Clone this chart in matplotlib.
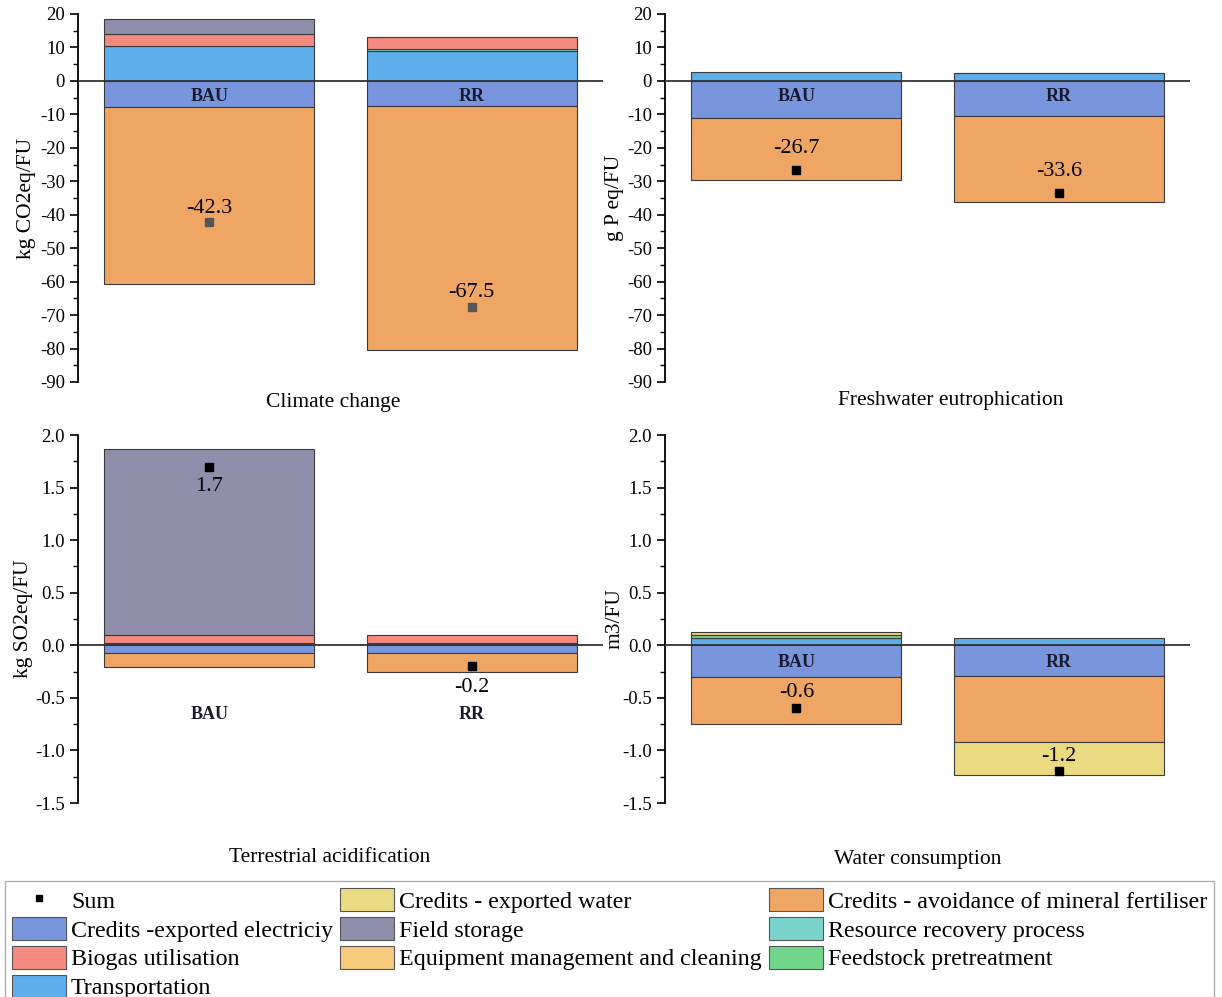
import matplotlib
matplotlib.use("Agg")
import matplotlib.pyplot as plt
from matplotlib.patches import Patch
from matplotlib.lines import Line2D
from matplotlib.ticker import MultipleLocator

plt.rcParams['font.family'] = ['Liberation Serif', 'DejaVu Serif']
plt.rcParams['axes.unicode_minus'] = False

scenarios = ["BAU", "RR"]
panels = ["Climate change", "Freshwater eutrophication", "Terrestrial acidification", "Water consumption"]
ylabels = ["kg CO2eq/FU", "g P eq/FU", "kg SO2eq/FU", "m3/FU"]

# values per panel, [BAU, RR]
transportation = [[10.5, 9.0], [2.7, 2.3], [0.02, 0.02], [0.07, 0.07]]
biogas = [[3.5, 3.5], [0.0, 0.0], [0.08, 0.08], [0.0, 0.0]]
field_storage = [[4.5, 0.0], [0.0, 0.0], [1.77, 0.0], [0.0, 0.0]]
resource_recovery = [[0.0, 0.6], [0.0, 0.2], [0.0, 0.0], [0.0, 0.0]]
feedstock = [[0.0, 0.0], [0.0, 0.0], [0.0, 0.0], [0.03, 0.0]]
equipment = [[0.0, 0.0], [0.0, 0.0], [0.0, 0.0], [0.025, 0.0]]
electricity = [[-7.8, -7.5], [-11.0, -10.6], [-0.07, -0.07], [-0.30, -0.29]]
fertiliser = [[-53.0, -73.0], [-18.5, -25.6], [-0.14, -0.18], [-0.45, -0.63]]
water = [[0.0, 0.0], [0.0, 0.0], [0.0, 0.0], [0.0, -0.31]]
sums = [[-42.3, -67.5], [-26.7, -33.6], [1.7, -0.2], [-0.6, -1.2]]

c_elec = "#7895de"
c_fert = "#efa564"
c_trans = "#5eaeec"
c_biogas = "#f58b80"
c_field = "#8f8fab"
c_water = "#eadb83"
c_equip = "#f7ca7d"
c_resrec = "#7bd4cb"
c_feed = "#72d68d"

pos_stack = [(transportation, c_trans), (feedstock, c_feed), (resource_recovery, c_resrec),
             (equipment, c_equip), (biogas, c_biogas), (field_storage, c_field)]
neg_stack = [(electricity, c_elec), (fertiliser, c_fert), (water, c_water)]

W, H = 1222, 997
fig = plt.figure(figsize=(W / 100, H / 100), dpi=100)

def fx(px):
    return px / W

def fy(py):
    return 1 - py / H

layouts = [
    dict(left=78, right=603, top=14, bottom=382, ylim=(-90, 20), major=10, minor=5,
         fmt="{:.0f}", catlab=-4.8, title_xy=(333, 403), ylab_x=36),
    dict(left=665, right=1190, top=14, bottom=382, ylim=(-90, 20), major=10, minor=5,
         fmt="{:.0f}", catlab=-4.8, title_xy=(951, 400), ylab_x=624),
    dict(left=78, right=603, top=435, bottom=803, ylim=(-1.5, 2.0), major=0.5, minor=0.25,
         fmt="{:.1f}", catlab=-0.66, title_xy=(330, 857), ylab_x=33),
    dict(left=665, right=1190, top=435, bottom=803, ylim=(-1.5, 2.0), major=0.5, minor=0.25,
         fmt="{:.1f}", catlab=-0.16, title_xy=(918, 859), ylab_x=624),
]
# sum label offsets (pixels, vertical) per panel per scenario
label_offsets = [[14, 14], [22, 22], [-20, -21], [16, 15]]
marker_colors = ["#555555", "black", "black", "black"]

xpos = [1, 2]
bw = 0.80
for i, L in enumerate(layouts):
    width_px = L['right'] - L['left']
    ax = fig.add_axes([fx(L['left']), fy(L['bottom']), fx(width_px),
                       (L['bottom'] - L['top']) / H])
    for j, x in enumerate(xpos):
        base = 0.0
        for arr, col in pos_stack:
            v = arr[i][j]
            if v != 0:
                ax.bar(x, v, bw, bottom=base, color=col, edgecolor="#3a3a3a", linewidth=0.8, zorder=2)
                base += v
        base = 0.0
        for arr, col in neg_stack:
            v = arr[i][j]
            if v != 0:
                ax.bar(x, v, bw, bottom=base, color=col, edgecolor="#3a3a3a", linewidth=0.8, zorder=2)
                base += v
        ax.plot(x, sums[i][j], marker='s', color=marker_colors[i], markersize=5.5,
                linestyle='none', zorder=4)
        ax.annotate(f"{sums[i][j]:.1f}", (x, sums[i][j]), xytext=(0, label_offsets[i][j]),
                    textcoords='offset pixels', ha='center', va='center', fontsize=16, zorder=5)
        ax.text(x, L['catlab'], scenarios[j], ha='center', va='center', fontsize=13,
                fontweight='bold', color='#1a1a2e', zorder=5)
    ax.axhline(0, color="#333333", linewidth=1.3, zorder=3)
    ax.set_xlim(0.5, 2.5)
    ax.set_ylim(*L['ylim'])
    for s in ['top', 'right', 'bottom']:
        ax.spines[s].set_visible(False)
    ax.spines['left'].set_linewidth(1.3)
    ax.set_xticks([])
    ax.yaxis.set_major_locator(MultipleLocator(L['major']))
    ax.yaxis.set_minor_locator(MultipleLocator(L['minor']))
    ax.yaxis.set_major_formatter(plt.FuncFormatter(lambda v, p, f=L['fmt']: f.format(v)))
    ax.tick_params(axis='y', which='major', length=6, width=1.2, labelsize=13.5)
    ax.tick_params(axis='y', which='minor', length=3.5, width=1.0)
    ax.set_ylabel(ylabels[i], fontsize=15.5)
    ax.yaxis.set_label_coords((L['ylab_x'] - L['left']) / width_px, 0.5)
    fig.text(fx(L['title_xy'][0]), fy(L['title_xy'][1]), panels[i], ha='center', va='center',
             fontsize=15.5)

legend_labels = ["Sum", "Credits -exported electriciy", "Biogas utilisation", "Transportation",
                 "Credits - exported water", "Field storage", "Equipment management and cleaning",
                 "Credits - avoidance of mineral fertiliser", "Resource recovery process",
                 "Feedstock pretreatment"]
legend_colors = [None, c_elec, c_biogas, c_trans, c_water, c_field, c_equip, c_fert, c_resrec, c_feed]
handles = []
for lab, col in zip(legend_labels, legend_colors):
    if col is None:
        handles.append(Line2D([], [], marker='s', color='black', markersize=5, linestyle='none'))
    else:
        handles.append(Patch(facecolor=col, edgecolor="#555555", linewidth=0.8))

leg = fig.legend(handles, legend_labels, loc='upper left', bbox_to_anchor=(fx(5), fy(881)),
                 ncol=3, fontsize=17.3, frameon=True, fancybox=False, edgecolor="#999999",
                 handlelength=2.25, handleheight=1.12, handletextpad=0.22, columnspacing=0.28,
                 labelspacing=0.17, borderpad=0.28, borderaxespad=0)
leg.get_frame().set_linewidth(1.0)

fig.savefig("out.png", dpi=100)
